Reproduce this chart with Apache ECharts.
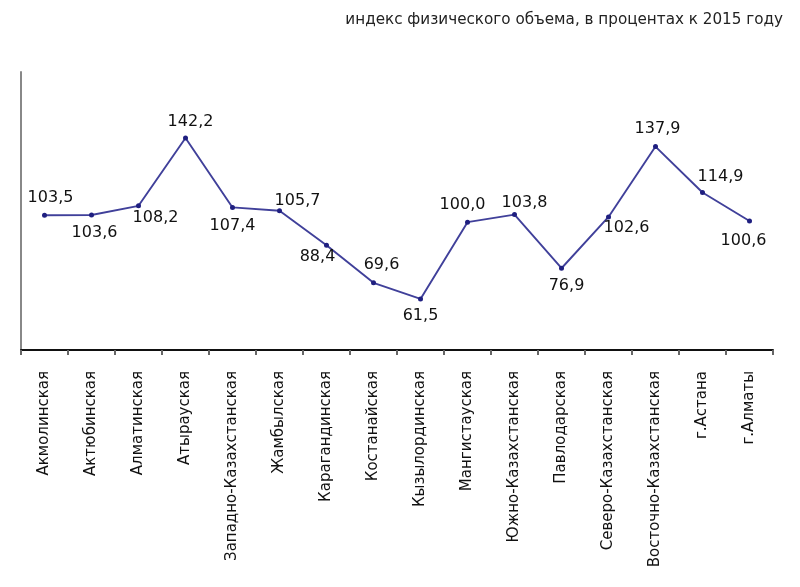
<!DOCTYPE html>
<html>
<head>
<meta charset="utf-8">
<script src="https://cdn.jsdelivr.net/npm/echarts@6/dist/echarts.min.js"></script>
<style>html,body{margin:0;padding:0;background:#fff;}#chart{width:800px;height:587px;}</style>
</head>
<body>
<div id="chart"></div>
<script>
const titleText = 'индекс физического объема, в процентах к 2015 году';
const categories = ['Акмолинская','Актюбинская','Алматинская','Атырауская','Западно-Казахстанская','Жамбылская','Карагандинская','Костанайская','Кызылординская','Мангистауская','Южно-Казахстанская','Павлодарская','Северо-Казахстанская','Восточно-Казахстанская','г.Астана','г.Алматы'];
const values = [103.5,103.6,108.2,142.2,107.4,105.7,88.4,69.6,61.5,100.0,103.8,76.9,102.6,137.9,114.9,100.6];
// label offsets (px) from each point, style only
const labelOffsets = [[6,-17],[3,18],[17,12],[5,-16],[0,18],[18,-10],[-9,12],[8,-18],[0,17],[-5,-17],[10,-12],[5,18],[18,11],[2,-18],[18,-16],[-6,20]];

const chart = echarts.init(document.getElementById('chart'));
const FONT = '"DejaVu Sans", "Liberation Sans", sans-serif';
chart.setOption({
  animation: false,
  backgroundColor: '#fff',
  title: {
    text: titleText,
    right: 12, top: 8,
    textStyle: {fontFamily: FONT, fontSize: 15.2, fontWeight: 'normal', color: '#222'}
  },
  grid: {left: 21, right: 27, top: 72, bottom: 237},
  xAxis: {
    type: 'category',
    data: categories,
    boundaryGap: true,
    axisLine: {show: true, lineStyle: {color: '#111', width: 2}},
    axisTick: {show: true, length: 5, lineStyle: {color: '#666', width: 2}},
    axisLabel: {rotate: 90, margin: 21, interval: 0, fontFamily: FONT, fontSize: 15, color: '#111'}
  },
  yAxis: {
    type: 'value',
    min: 35.9, max: 175.3,
    axisLine: {show: true, lineStyle: {color: '#888', width: 2}},
    axisTick: {show: false},
    axisLabel: {show: false},
    splitLine: {show: false}
  },
  series: [{
    type: 'line',
    data: values.map((v, i) => ({
      value: v,
      label: {show: true, position: 'inside', offset: labelOffsets[i]}
    })),
    symbol: 'circle',
    symbolSize: 5,
    lineStyle: {color: '#40409a', width: 1.9},
    itemStyle: {color: '#1f1f80'},
    label: {
      show: true,
      formatter: p => p.value.toFixed(1).replace('.', ','),
      fontFamily: FONT, fontSize: 16, color: '#111'
    }
  }]
});
</script>
</body>
</html>
